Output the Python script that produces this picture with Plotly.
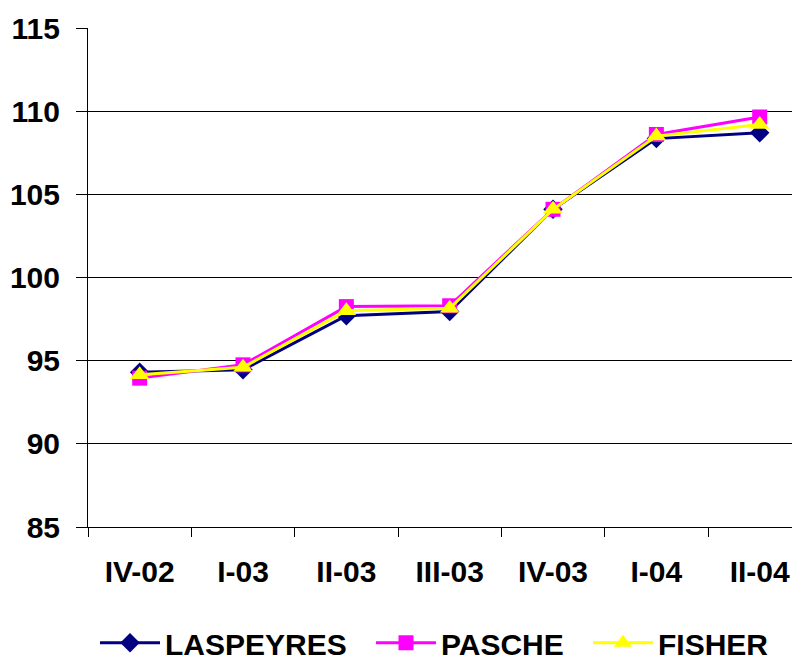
import plotly.graph_objects as go

categories = ["IV-02", "I-03", "II-03", "III-03", "IV-03", "I-04", "II-04"]
laspeyres = [94.3, 94.45, 97.7, 97.95, 104.1, 108.35, 108.7]
pasche = [93.95, 94.75, 98.25, 98.3, 104.1, 108.6, 109.65]
fisher = [94.15, 94.6, 98.0, 98.15, 104.1, 108.5, 109.2]
y_ticks = [85, 90, 95, 100, 105, 110, 115]

FONT = "Liberation Sans, Arial, sans-serif"
LFONT = dict(family=FONT, size=30, color="black", weight="bold")

fig = go.Figure()
fig.add_trace(go.Scatter(x=categories, y=laspeyres, name="LASPEYRES", mode="lines+markers",
                         line=dict(color="#000080", width=3), legend="legend",
                         marker=dict(symbol="diamond", size=15, color="#000080")))
fig.add_trace(go.Scatter(x=categories, y=pasche, name="PASCHE", mode="lines+markers",
                         line=dict(color="#FF00FF", width=3), legend="legend2",
                         marker=dict(symbol="square", size=15, color="#FF00FF")))
fig.add_trace(go.Scatter(x=categories, y=fisher, name="FISHER", mode="lines+markers",
                         line=dict(color="#FFFF00", width=3), legend="legend3",
                         marker=dict(symbol="triangle-up", size=17, color="#FFFF00")))

def leg(x):
    return dict(orientation="h", x=x, xanchor="left", y=-0.18, yanchor="top",
                font=LFONT, itemwidth=60, bgcolor="rgba(0,0,0,0)")

# page body has an 8px margin, so the figure is drawn 8px right/down
fig.update_layout(
    width=792, height=653,
    margin=dict(l=80, r=0, t=20, b=134, autoexpand=False),
    paper_bgcolor="white", plot_bgcolor="white",
    font=dict(family=FONT, size=30, color="black", weight="bold"),
    showlegend=True,
    legend=leg((105 - 98) / 712),
    legend2=leg((381 - 98) / 712),
    legend3=leg((598 - 98) / 712),
    xaxis=dict(type="category", range=[-0.5, 6.39], showgrid=False, automargin=False,
               showline=True, linecolor="black", linewidth=1,
               ticks="outside", tickson="boundaries", ticklen=9, tickcolor="black",
               ticklabelstandoff=18,
               tickfont=dict(family=FONT, size=30, color="black", weight="bold")),
    yaxis=dict(range=[85, 115], tickvals=y_ticks, showgrid=True, gridcolor="black", gridwidth=1,
               zeroline=False, showline=True, linecolor="black", linewidth=1, automargin=False,
               ticks="outside", ticklen=11, tickcolor="black", ticklabelstandoff=10,
               tickfont=dict(family=FONT, size=30, color="black", weight="bold")),
)

fig.write_html("out.html")
